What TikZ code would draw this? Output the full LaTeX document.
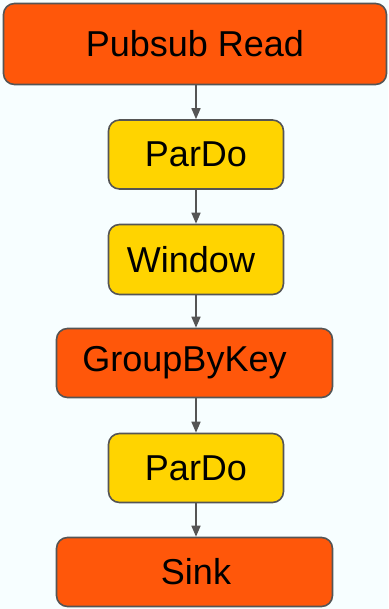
\documentclass[tikz,border=0pt]{standalone}
\usepackage{fontspec}
\setmainfont{Liberation Sans}
\usetikzlibrary{arrows.meta}
\definecolor{bgc}{HTML}{F7FEFF}
\definecolor{hot}{HTML}{FF570A}
\definecolor{warm}{HTML}{FFD400}
\definecolor{edge}{HTML}{555555}
\tikzset{
  stage/.style={draw=edge, line width=1.6pt, rounded corners=11pt, inner sep=0pt,
    font=\fontsize{36}{42}\selectfont, text=black},
  heavy/.style={stage, fill=hot},
  light/.style={stage, fill=warm},
  flow/.style={draw=edge, line width=1.5pt, -{Triangle[length=11pt,width=9pt]}},
}
\begin{document}
\begin{tikzpicture}[x=1pt,y=-1pt]
  \fill[bgc] (0,0) rectangle (388,609);
  \useasboundingbox (0,0) rectangle (388,609);
  \node[heavy, minimum width=383pt, minimum height=81pt] (read) at (195,44) {Pubsub Read};
  \node[light, minimum width=175pt, minimum height=69pt] (pardoA) at (196,154.5) {ParDo};
  \node[light, minimum width=175pt, minimum height=70pt] (window) at (196,259.5) {Window\kern10pt};
  \node[heavy, minimum width=276pt, minimum height=69pt] (gbk) at (194.5,363) {GroupByKey\kern20pt};
  \node[light, minimum width=175pt, minimum height=69pt] (pardoB) at (196,468) {ParDo};
  \node[heavy, minimum width=276pt, minimum height=69pt] (sink) at (194.5,572) {\kern3pt Sink};
  \draw[flow] (read.south -| pardoA.north) -- (pardoA.north);
  \draw[flow] (pardoA) -- (window);
  \draw[flow] (window.south) -- (window.south |- gbk.north);
  \draw[flow] (gbk.south -| pardoB.north) -- (pardoB.north);
  \draw[flow] (pardoB.south) -- (pardoB.south |- sink.north);
\end{tikzpicture}
\end{document}
